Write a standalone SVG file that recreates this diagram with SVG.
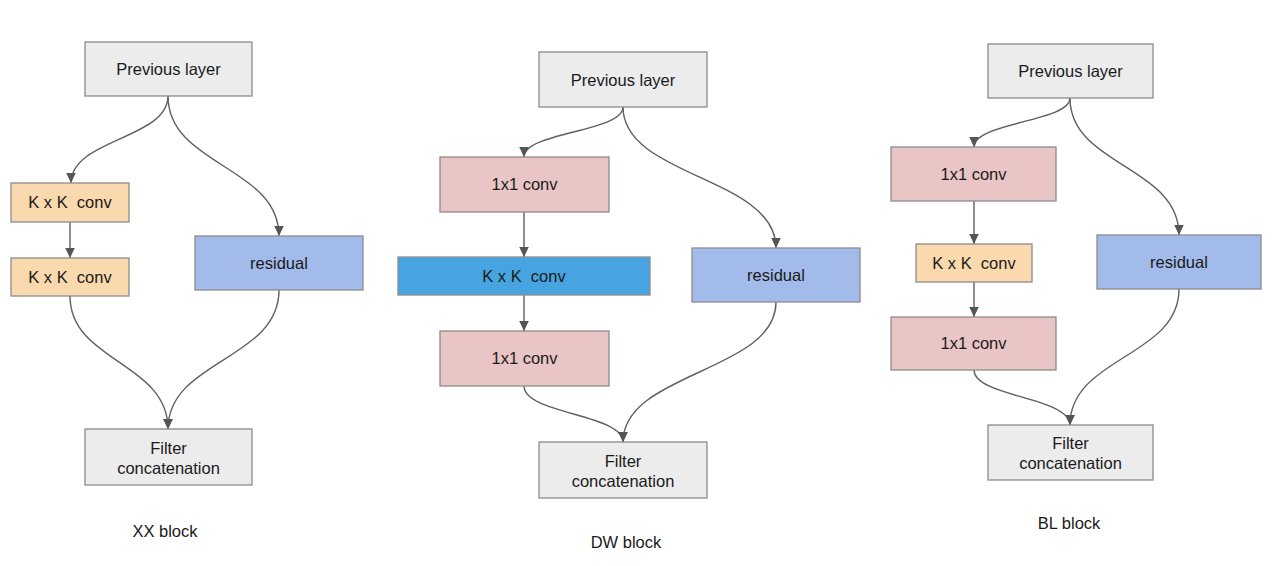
<svg xmlns="http://www.w3.org/2000/svg" width="1272" height="566" viewBox="0 0 1272 566">
<style>
.box{stroke:#8c8c8c;stroke-width:1.3}
.gray{fill:#ececec}
.orange{fill:#fad9ae}
.pink{fill:#eac5c5}
.blue{fill:#48a4e0}
.res{fill:#a3bbea}
text{font-family:"Liberation Sans",Arial,sans-serif;font-size:16.5px;fill:#1a1a1a;text-anchor:middle;white-space:pre}
.conn path{fill:none;stroke:#5f5f5f;stroke-width:1.4;marker-end:url(#arr)}
</style>
<defs>
<marker id="arr" markerUnits="userSpaceOnUse" markerWidth="11" markerHeight="11" refX="10.5" refY="5.5" orient="auto">
<path d="M0,0.5 L10.5,5.5 L0,10.5 z" fill="#555"/>
</marker>
</defs>
<rect width="1272" height="566" fill="#fff"/>

<g class="conn" id="connectors">
<path d="M168,96 C168,139 71,139 71,183"/>
<path d="M168,96 C168,166 279,166 279,236"/>
<path d="M70,222 L70,258"/>
<path d="M70,296 C70,362 168,362 168,429"/>
<path d="M279,290 C279,360 168,360 168,429"/>

<path d="M623,107 C623,132 524,132 524,157"/>
<path d="M623,107 C623,177 776,177 776,248"/>
<path d="M524,212 L524,257"/>
<path d="M524,295 L524,331"/>
<path d="M524,386 C524,414 623,414 623,442"/>
<path d="M776,302 C776,372 623,372 623,442"/>

<path d="M1070,98 C1070,122 974,122 974,147"/>
<path d="M1070,98 C1070,166 1179,166 1179,235"/>
<path d="M974,201 L974,244"/>
<path d="M974,282 L974,317"/>
<path d="M974,370 C974,397 1070,397 1070,425"/>
<path d="M1179,289 C1179,357 1070,357 1070,425"/>
</g>

<g id="xx-prev"><rect class="box gray" x="85" y="42" width="167" height="54"/><text x="168.5" y="75">Previous layer</text></g>
<g id="xx-kxk1"><rect class="box orange" x="11" y="183" width="118" height="39"/><text x="70" y="208">K x K  conv</text></g>
<g id="xx-kxk2"><rect class="box orange" x="11" y="258" width="118" height="38"/><text x="70" y="283">K x K  conv</text></g>
<g id="xx-res"><rect class="box res" x="195" y="236" width="168" height="54"/><text x="279" y="269">residual</text></g>
<g id="xx-filter"><rect class="box gray" x="85" y="429" width="167" height="56"/><text x="168.5" y="454">Filter</text><text x="168.5" y="474">concatenation</text></g>
<g id="xx-label"><text x="165" y="537">XX block</text></g>

<g id="dw-prev"><rect class="box gray" x="539" y="52" width="168" height="55"/><text x="623" y="86">Previous layer</text></g>
<g id="dw-1x1a"><rect class="box pink" x="440" y="157" width="169" height="55"/><text x="524.5" y="190">1x1 conv</text></g>
<g id="dw-kxk"><rect class="box blue" x="398" y="257" width="252" height="38"/><text x="524" y="282">K x K  conv</text></g>
<g id="dw-res"><rect class="box res" x="692" y="248" width="168" height="54"/><text x="776" y="281">residual</text></g>
<g id="dw-1x1b"><rect class="box pink" x="440" y="331" width="169" height="55"/><text x="524.5" y="364">1x1 conv</text></g>
<g id="dw-filter"><rect class="box gray" x="539" y="442" width="168" height="56"/><text x="623" y="467">Filter</text><text x="623" y="487">concatenation</text></g>
<g id="dw-label"><text x="626" y="548">DW block</text></g>

<g id="bl-prev"><rect class="box gray" x="988" y="44" width="165" height="54"/><text x="1070.5" y="77">Previous layer</text></g>
<g id="bl-1x1a"><rect class="box pink" x="891" y="147" width="165" height="54"/><text x="973.5" y="180">1x1 conv</text></g>
<g id="bl-kxk"><rect class="box orange" x="916" y="244" width="116" height="38"/><text x="974" y="269">K x K  conv</text></g>
<g id="bl-res"><rect class="box res" x="1097" y="235" width="164" height="54"/><text x="1179" y="268">residual</text></g>
<g id="bl-1x1b"><rect class="box pink" x="891" y="317" width="165" height="53"/><text x="973.5" y="349">1x1 conv</text></g>
<g id="bl-filter"><rect class="box gray" x="988" y="425" width="165" height="55"/><text x="1070.5" y="449">Filter</text><text x="1070.5" y="469">concatenation</text></g>
<g id="bl-label"><text x="1069" y="529">BL block</text></g>
</svg>
